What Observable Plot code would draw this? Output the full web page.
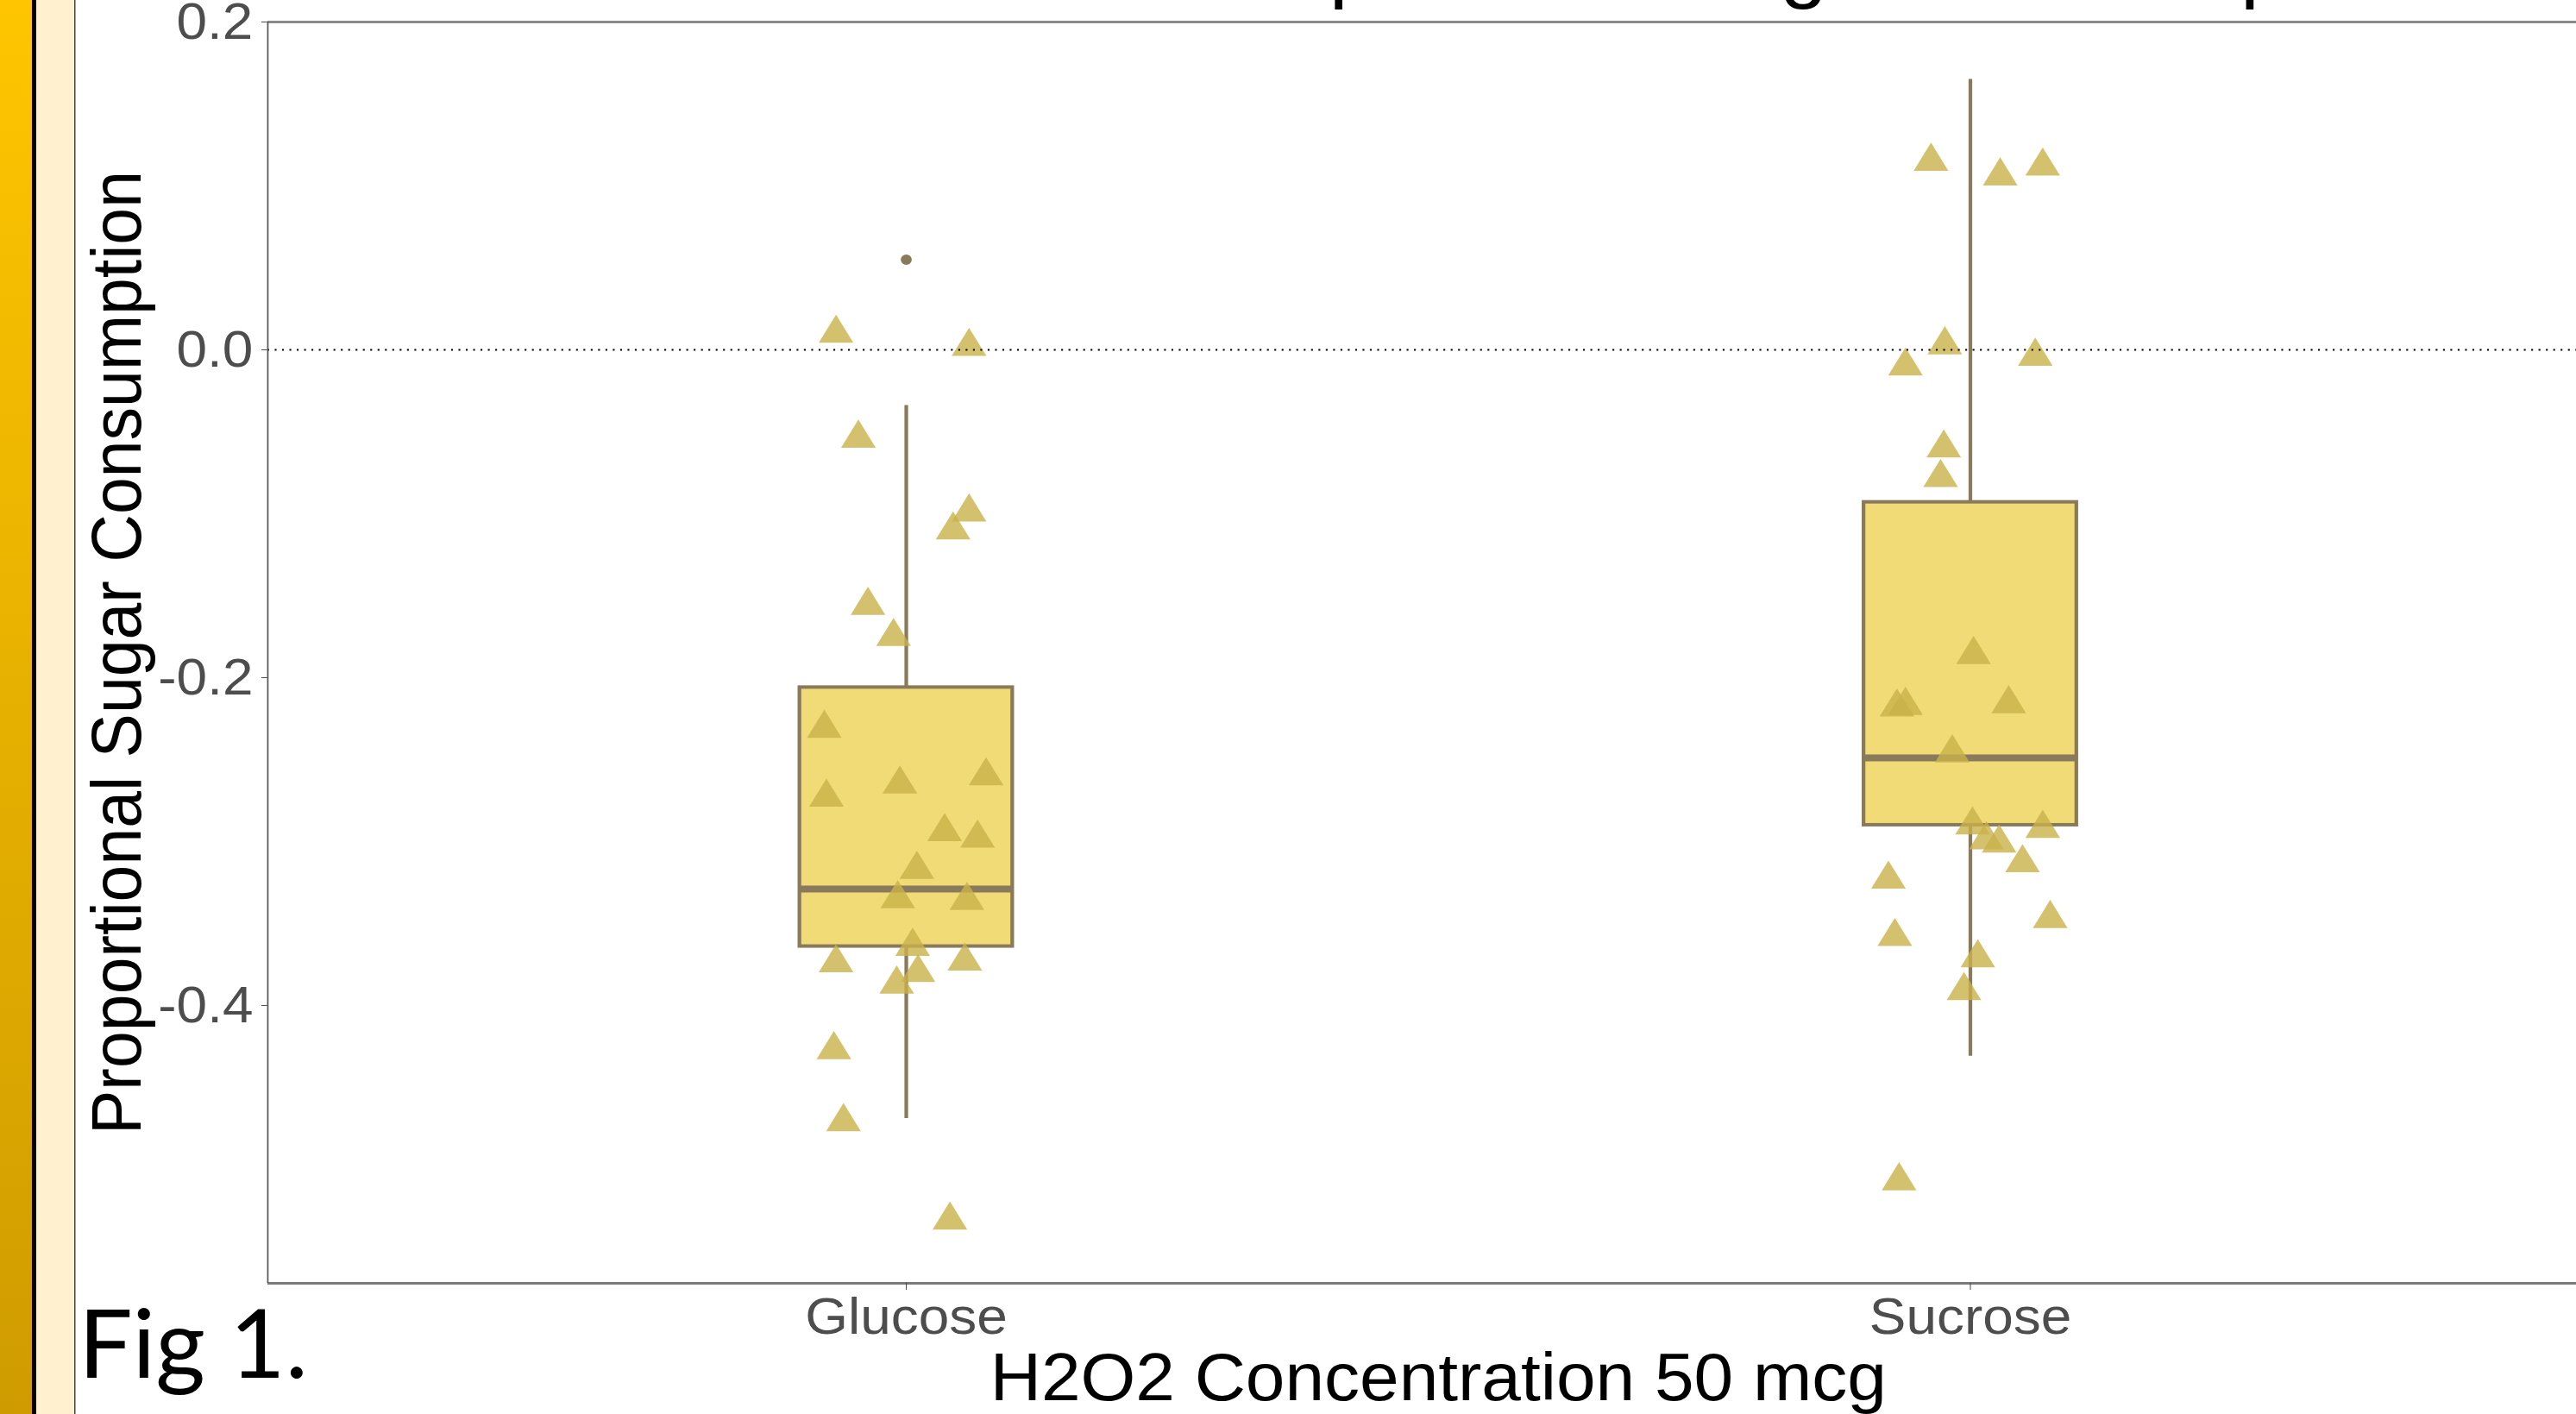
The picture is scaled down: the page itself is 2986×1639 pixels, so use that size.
<!DOCTYPE html>
<html><head><meta charset="utf-8">
<script src="https://cdn.jsdelivr.net/npm/d3@7"></script>
<script src="https://cdn.jsdelivr.net/npm/@observablehq/plot@0.6"></script>
<style>
html,body{margin:0;padding:0;background:#fff;width:2986px;height:1639px;overflow:hidden;position:relative}
#chart{position:absolute;left:0;top:-100px;width:2859px;transform:scaleX(1.065);transform-origin:0 0}
#deco{position:absolute;left:0;top:0}
</style></head><body>
<div id="chart"></div>
<svg id="deco" width="2986" height="1639">
  <defs><linearGradient id="gold" x1="0" y1="0" x2="0" y2="1">
    <stop offset="0" stop-color="#FEC500"/><stop offset="1" stop-color="#CF9C00"/>
  </linearGradient></defs>
  <rect x="0" y="0" width="37" height="1639" fill="url(#gold)"/>
  <rect x="37" y="0" width="5" height="1639" fill="#000"/>
  <rect x="42" y="0" width="44" height="1639" fill="#FFF1D0"/>
  <rect x="86" y="0" width="1.5" height="1639" fill="#444"/>
  <text x="91" y="1597" font-family="Lato, 'Open Sans', sans-serif" font-size="111" fill="#000">Fig 1.</text>
</svg>
<script>
const categories = ["Glucose", "Sucrose"];

const glucoseValues = [0.010, 0.002, -0.054, -0.099, -0.110, -0.156, -0.175, -0.231, -0.273, -0.265, -0.260, -0.294,
  -0.298, -0.317, -0.335, -0.336, -0.364, -0.374, -0.373, -0.380, -0.387, -0.427, -0.471, -0.531];
const glucoseJitter = [-0.066, 0.059, -0.045, 0.059, 0.044, -0.036, -0.012, -0.077, -0.075, -0.006, 0.075, 0.036,
  0.067, 0.010, -0.008, 0.057, 0.006, -0.066, 0.055, 0.011, -0.009, -0.068, -0.059, 0.041];

const sucroseValues = [0.115, 0.106, 0.112, 0.003, -0.010, -0.004, -0.060, -0.078, -0.186, -0.218, -0.217, -0.216,
  -0.246, -0.290, -0.299, -0.301, -0.292, -0.313, -0.323, -0.358, -0.347, -0.371, -0.391, -0.507];
const sucroseJitter = [-0.037, 0.028, 0.068, -0.024, -0.061, 0.061, -0.025, -0.028, 0.003, -0.069, -0.061, 0.036,
  -0.017, 0.002, 0.015, 0.027, 0.068, 0.049, -0.077, -0.071, 0.075, 0.007, -0.006, -0.067];

const boxLow = [-0.469, -0.431];
const boxQ1 = [-0.364, -0.290];
const boxMedian = [-0.329, -0.249];
const boxQ3 = [-0.206, -0.093];
const boxHigh = [-0.034, 0.165];

const outlierCategories = ["Glucose"];
const outlierValues = [0.055];

const yTicks = [-0.4, -0.2, 0, 0.2];
const yTickLabels = ["-0.4", "-0.2", "0.0", "0.2"];
const yDomain = [-0.5695, 0.2];

const plotTitle = "Proportional Sugar Consumption";
const xTitle = "H2O2 Concentration 50 mcg";
const yTitle = "Proportional Sugar Consumption";

// build tables
const pos = c => categories.indexOf(c) + 1;
const points = [
  ...glucoseValues.map((v, i) => ({cat: "Glucose", x: pos("Glucose") + glucoseJitter[i], y: v})),
  ...sucroseValues.map((v, i) => ({cat: "Sucrose", x: pos("Sucrose") + sucroseJitter[i], y: v}))
];
const boxes = categories.map((c, i) => ({cat: c, pos: pos(c), low: boxLow[i], q1: boxQ1[i], med: boxMedian[i], q3: boxQ3[i], high: boxHigh[i]}));
const outliers = outlierCategories.map((c, i) => ({pos: pos(c), y: outlierValues[i]}));

const half = 0.1;
const boxStroke = "#8A7A5C";
const font = "'Liberation Sans', Arial, sans-serif";

const chart = Plot.plot({
  width: 2859,
  height: 1760,
  marginLeft: 291,
  marginRight: 20,
  marginTop: 125,
  marginBottom: 173,
  style: {fontFamily: font, fontSize: "60px", maxWidth: "none", overflow: "visible", background: "transparent"},
  x: {domain: [0.4, 2.6], axis: null},
  y: {domain: yDomain, axis: null},
  marks: [
    Plot.ruleX(boxes, {x: "pos", y1: "low", y2: "q1", stroke: boxStroke, strokeWidth: 4}),
    Plot.ruleX(boxes, {x: "pos", y1: "q3", y2: "high", stroke: boxStroke, strokeWidth: 4}),
    Plot.rect(boxes, {x1: d => d.pos - half, x2: d => d.pos + half, y1: "q1", y2: "q3", fill: "#F0DB76", stroke: boxStroke, strokeWidth: 4}),
    Plot.ruleY(boxes, {y: "med", x1: d => d.pos - half, x2: d => d.pos + half, stroke: boxStroke, strokeWidth: 8}),
    Plot.dot(outliers, {x: "pos", y: "y", r: 6, fill: boxStroke, stroke: null}),
    Plot.dot(points, {x: "x", y: "y", symbol: "triangle", r: 14, fill: "#C9B24A", fillOpacity: 0.8, stroke: null}),
    Plot.ruleY([0], {stroke: "#000", strokeWidth: 2, strokeDasharray: "2,6"}),
    Plot.ruleY([yDomain[1]], {stroke: "#8a8a8a", strokeWidth: 3}),
    Plot.ruleY([yDomain[0]], {stroke: "#7a7a7a", strokeWidth: 3}),
    Plot.ruleX([0.4], {stroke: "#555", strokeWidth: 1.6}),
    Plot.axisY({ticks: yTicks, tickFormat: d => yTickLabels[yTicks.indexOf(d)], tickSize: 6.6, tickPadding: 9.4,
      color: "#4d4d4d", fontSize: 60, label: null}),
    Plot.axisX({ticks: [1, 2], tickFormat: d => categories[d - 1], tickSize: 8, tickPadding: 7.4,
      color: "#4d4d4d", fontSize: 60, label: null}),
    Plot.text([xTitle], {frameAnchor: "bottom", lineAnchor: "bottom", dy: 135, fontSize: 77, fill: "#000"}),
    Plot.text([yTitle], {frameAnchor: "left", textAnchor: "middle", rotate: -90, dx: -163, fontSize: 77, fill: "#000"}),
    Plot.text([plotTitle], {frameAnchor: "top-left", textAnchor: "start", lineAnchor: "bottom", dx: 1012, dy: -34, fontSize: 92, fill: "#000"})
  ]
});
document.getElementById("chart").appendChild(chart);
</script>
</body></html>
